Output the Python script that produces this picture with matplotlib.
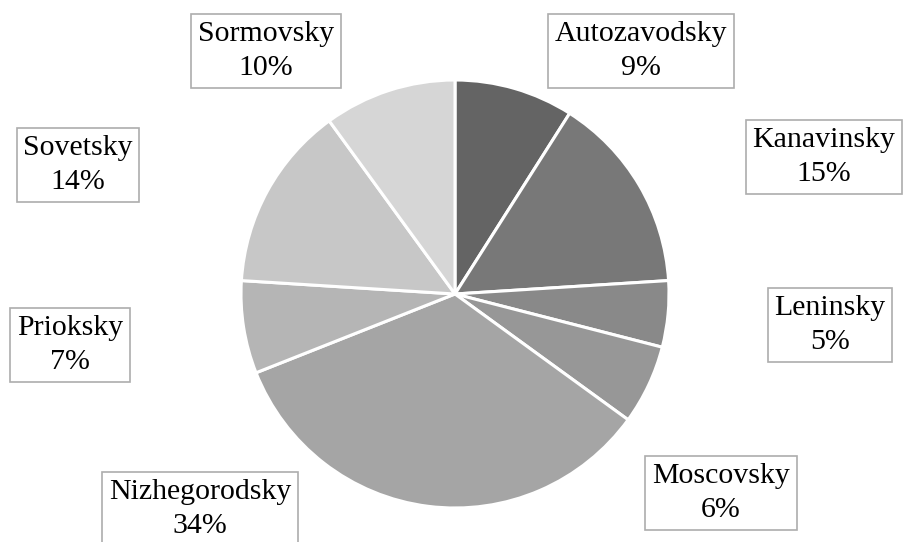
import numpy as np
import matplotlib
matplotlib.use('Agg')
import matplotlib.pyplot as plt

plt.rcParams['font.family'] = ['Liberation Serif', 'DejaVu Serif']

# districts, clockwise from 12 o'clock
districts = ['Autozavodsky', 'Kanavinsky', 'Leninsky', 'Moscovsky',
             'Nizhegorodsky', 'Prioksky', 'Sovetsky', 'Sormovsky']
shares = [9, 15, 5, 6, 34, 7, 14, 10]
greys = ['#646464', '#787878', '#898989', '#979797',
         '#a5a5a5', '#b5b5b5', '#c7c7c7', '#d6d6d6']

# label box centres, pixels from top-left of the 904x542 image
label_pos = [(641, 51), (824, 157), (830, 325), (721, 493),
             (200, 509), (70, 345), (78, 165), (266, 51)]

W, H = 904, 542
fig = plt.figure(figsize=(W / 100, H / 100), dpi=100)

cx, cy, r = 455, 294, 214
ax = fig.add_axes([(cx - r) / W, (H - cy - r) / H, 2 * r / W, 2 * r / H])
ax.pie(shares, colors=greys, startangle=90, counterclock=False,
       wedgeprops=dict(edgecolor='white', linewidth=2.2))
ax.set_xlim(-1, 1)
ax.set_ylim(-1, 1)
ax.set_aspect('equal')
ax.axis('off')

for name, val, (x, y) in zip(districts, shares, label_pos):
    fig.text(x / W, 1 - y / H, '%s\n%d%%' % (name, val),
             ha='center', va='center', multialignment='center',
             fontsize=21.5, color='black', linespacing=1.4,
             bbox=dict(boxstyle='square,pad=0.22', facecolor='white',
                       edgecolor='#adadad', linewidth=1.2))

fig.savefig('out.png', dpi=100)
